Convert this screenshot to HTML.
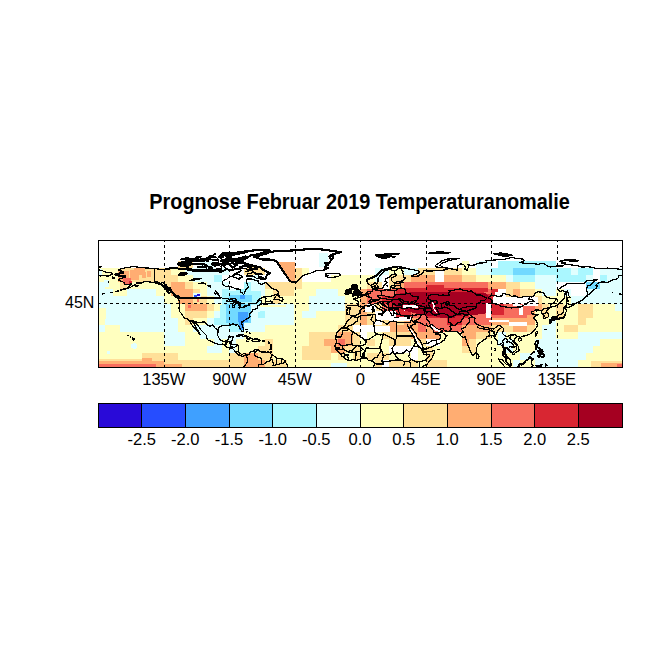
<!DOCTYPE html><html><head><meta charset="utf-8"><style>html,body{margin:0;padding:0;background:#fff;width:654px;height:654px;overflow:hidden}svg{display:block}text{font-family:"Liberation Sans",sans-serif;fill:#000}</style></head><body><svg width="654" height="654" viewBox="0 0 654 654"><rect width="654" height="654" fill="#fff"/><text transform="translate(149.3 208.6) scale(0.921 1)" font-size="21.6" font-weight="bold">Prognose Februar 2019 Temperaturanomalie</text><svg x="99" y="241" width="523" height="126" viewBox="99 241 523 126" overflow="hidden"><g shape-rendering="crispEdges"><rect x="178" y="261" width="15" height="7" fill="#FFE099"/><rect x="200" y="261" width="14" height="7" fill="#E0FFFF"/><rect x="462" y="261" width="7" height="7" fill="#FFFFBF"/><rect x="476" y="261" width="15" height="7" fill="#E0FFFF"/><rect x="498" y="261" width="58" height="7" fill="#AAF7FF"/><rect x="99" y="268" width="21" height="7" fill="#FFFFBF"/><rect x="120" y="268" width="51" height="7" fill="#FFE099"/><rect x="171" y="268" width="14" height="7" fill="#FFFFBF"/><rect x="185" y="268" width="44" height="7" fill="#E0FFFF"/><rect x="244" y="268" width="21" height="7" fill="#FFE099"/><rect x="294" y="268" width="8" height="7" fill="#FFE099"/><rect x="302" y="268" width="7" height="7" fill="#FFFFBF"/><rect x="375" y="268" width="14" height="7" fill="#E0FFFF"/><rect x="389" y="268" width="15" height="7" fill="#FFFFBF"/><rect x="404" y="268" width="14" height="7" fill="#E0FFFF"/><rect x="418" y="268" width="44" height="7" fill="#FFE099"/><rect x="462" y="268" width="14" height="7" fill="#FFFFBF"/><rect x="476" y="268" width="15" height="7" fill="#E0FFFF"/><rect x="491" y="268" width="22" height="7" fill="#AAF7FF"/><rect x="513" y="268" width="22" height="7" fill="#72D9FF"/><rect x="535" y="268" width="36" height="7" fill="#AAF7FF"/><rect x="571" y="268" width="7" height="7" fill="#E0FFFF"/><rect x="578" y="268" width="15" height="7" fill="#AAF7FF"/><rect x="600" y="268" width="22" height="7" fill="#E0FFFF"/><rect x="99" y="275" width="21" height="7" fill="#FFFFBF"/><rect x="120" y="275" width="58" height="7" fill="#FFE099"/><rect x="178" y="275" width="15" height="7" fill="#FFFFBF"/><rect x="193" y="275" width="21" height="7" fill="#E0FFFF"/><rect x="214" y="275" width="8" height="7" fill="#AAF7FF"/><rect x="251" y="275" width="7" height="7" fill="#E0FFFF"/><rect x="294" y="275" width="8" height="7" fill="#FFE099"/><rect x="331" y="275" width="44" height="7" fill="#FFFFBF"/><rect x="375" y="275" width="7" height="7" fill="#E0FFFF"/><rect x="389" y="275" width="22" height="7" fill="#FFE099"/><rect x="411" y="275" width="51" height="7" fill="#FFAD72"/><rect x="462" y="275" width="14" height="7" fill="#FFE099"/><rect x="476" y="275" width="30" height="7" fill="#FFFFBF"/><rect x="506" y="275" width="7" height="7" fill="#E0FFFF"/><rect x="513" y="275" width="22" height="7" fill="#AAF7FF"/><rect x="535" y="275" width="21" height="7" fill="#E0FFFF"/><rect x="556" y="275" width="30" height="7" fill="#AAF7FF"/><rect x="586" y="275" width="7" height="7" fill="#E0FFFF"/><rect x="600" y="275" width="7" height="7" fill="#AAF7FF"/><rect x="607" y="275" width="15" height="7" fill="#E0FFFF"/><rect x="99" y="282" width="6" height="7" fill="#E0FFFF"/><rect x="105" y="282" width="15" height="7" fill="#FFFFBF"/><rect x="120" y="282" width="7" height="7" fill="#FFE099"/><rect x="127" y="282" width="37" height="7" fill="#FFFFBF"/><rect x="164" y="282" width="7" height="7" fill="#FFE099"/><rect x="171" y="282" width="14" height="7" fill="#FFAD72"/><rect x="185" y="282" width="8" height="7" fill="#FFE099"/><rect x="193" y="282" width="14" height="7" fill="#FFFFBF"/><rect x="207" y="282" width="22" height="7" fill="#E0FFFF"/><rect x="244" y="282" width="7" height="7" fill="#AAF7FF"/><rect x="251" y="282" width="14" height="7" fill="#E0FFFF"/><rect x="265" y="282" width="37" height="7" fill="#FFE099"/><rect x="302" y="282" width="65" height="7" fill="#FFFFBF"/><rect x="367" y="282" width="15" height="7" fill="#FFE099"/><rect x="389" y="282" width="7" height="7" fill="#FFE099"/><rect x="396" y="282" width="8" height="7" fill="#FFAD72"/><rect x="404" y="282" width="14" height="7" fill="#F76D5E"/><rect x="418" y="282" width="22" height="7" fill="#D82632"/><rect x="440" y="282" width="36" height="7" fill="#F76D5E"/><rect x="476" y="282" width="30" height="7" fill="#FFAD72"/><rect x="506" y="282" width="14" height="7" fill="#FFE099"/><rect x="520" y="282" width="15" height="7" fill="#FFFFBF"/><rect x="535" y="282" width="21" height="7" fill="#E0FFFF"/><rect x="586" y="282" width="14" height="7" fill="#72D9FF"/><rect x="600" y="282" width="22" height="7" fill="#E0FFFF"/><rect x="99" y="289" width="14" height="7" fill="#E0FFFF"/><rect x="113" y="289" width="14" height="7" fill="#FFFFBF"/><rect x="127" y="289" width="29" height="7" fill="#E0FFFF"/><rect x="156" y="289" width="15" height="7" fill="#FFFFBF"/><rect x="171" y="289" width="22" height="7" fill="#FFAD72"/><rect x="193" y="289" width="7" height="7" fill="#FFE099"/><rect x="200" y="289" width="7" height="7" fill="#FFFFBF"/><rect x="207" y="289" width="15" height="7" fill="#E0FFFF"/><rect x="222" y="289" width="7" height="7" fill="#AAF7FF"/><rect x="229" y="289" width="7" height="7" fill="#E0FFFF"/><rect x="236" y="289" width="15" height="7" fill="#AAF7FF"/><rect x="251" y="289" width="14" height="7" fill="#E0FFFF"/><rect x="265" y="289" width="8" height="7" fill="#FFFFBF"/><rect x="273" y="289" width="21" height="7" fill="#FFE099"/><rect x="294" y="289" width="22" height="7" fill="#FFFFBF"/><rect x="316" y="289" width="22" height="7" fill="#E0FFFF"/><rect x="338" y="289" width="22" height="7" fill="#FFFFBF"/><rect x="360" y="289" width="7" height="7" fill="#FFAD72"/><rect x="367" y="289" width="29" height="7" fill="#F76D5E"/><rect x="396" y="289" width="15" height="7" fill="#D82632"/><rect x="411" y="289" width="15" height="7" fill="#A50021"/><rect x="426" y="289" width="21" height="7" fill="#D82632"/><rect x="447" y="289" width="22" height="7" fill="#A50021"/><rect x="469" y="289" width="15" height="7" fill="#D82632"/><rect x="484" y="289" width="7" height="7" fill="#F76D5E"/><rect x="491" y="289" width="7" height="7" fill="#D82632"/><rect x="506" y="289" width="7" height="7" fill="#FFE099"/><rect x="513" y="289" width="7" height="7" fill="#FFAD72"/><rect x="520" y="289" width="15" height="7" fill="#FFE099"/><rect x="535" y="289" width="7" height="7" fill="#FFFFBF"/><rect x="542" y="289" width="14" height="7" fill="#E0FFFF"/><rect x="556" y="289" width="8" height="7" fill="#FFFFBF"/><rect x="564" y="289" width="7" height="7" fill="#E0FFFF"/><rect x="586" y="289" width="36" height="7" fill="#E0FFFF"/><rect x="99" y="296" width="65" height="8" fill="#E0FFFF"/><rect x="164" y="296" width="14" height="8" fill="#FFFFBF"/><rect x="178" y="296" width="15" height="8" fill="#FFAD72"/><rect x="193" y="296" width="14" height="8" fill="#FFE099"/><rect x="207" y="296" width="7" height="8" fill="#FFFFBF"/><rect x="214" y="296" width="8" height="8" fill="#E0FFFF"/><rect x="222" y="296" width="14" height="8" fill="#AAF7FF"/><rect x="236" y="296" width="8" height="8" fill="#72D9FF"/><rect x="244" y="296" width="7" height="8" fill="#AAF7FF"/><rect x="251" y="296" width="7" height="8" fill="#E0FFFF"/><rect x="258" y="296" width="15" height="8" fill="#FFFFBF"/><rect x="273" y="296" width="7" height="8" fill="#FFE099"/><rect x="280" y="296" width="29" height="8" fill="#FFFFBF"/><rect x="309" y="296" width="36" height="8" fill="#E0FFFF"/><rect x="345" y="296" width="15" height="8" fill="#FFFFBF"/><rect x="360" y="296" width="7" height="8" fill="#FFAD72"/><rect x="367" y="296" width="15" height="8" fill="#F76D5E"/><rect x="382" y="296" width="14" height="8" fill="#D82632"/><rect x="396" y="296" width="80" height="8" fill="#A50021"/><rect x="476" y="296" width="15" height="8" fill="#D82632"/><rect x="506" y="296" width="7" height="8" fill="#FFE099"/><rect x="513" y="296" width="7" height="8" fill="#FFAD72"/><rect x="520" y="296" width="7" height="8" fill="#FFE099"/><rect x="535" y="296" width="7" height="8" fill="#FFE099"/><rect x="542" y="296" width="29" height="8" fill="#FFFFBF"/><rect x="571" y="296" width="51" height="8" fill="#E0FFFF"/><rect x="99" y="304" width="72" height="7" fill="#E0FFFF"/><rect x="171" y="304" width="14" height="7" fill="#FFFFBF"/><rect x="185" y="304" width="22" height="7" fill="#FFAD72"/><rect x="207" y="304" width="7" height="7" fill="#FFE099"/><rect x="214" y="304" width="8" height="7" fill="#FFFFBF"/><rect x="222" y="304" width="7" height="7" fill="#E0FFFF"/><rect x="229" y="304" width="7" height="7" fill="#AAF7FF"/><rect x="236" y="304" width="15" height="7" fill="#72D9FF"/><rect x="251" y="304" width="43" height="7" fill="#E0FFFF"/><rect x="294" y="304" width="15" height="7" fill="#FFFFBF"/><rect x="309" y="304" width="36" height="7" fill="#E0FFFF"/><rect x="345" y="304" width="15" height="7" fill="#FFE099"/><rect x="360" y="304" width="7" height="7" fill="#FFAD72"/><rect x="375" y="304" width="7" height="7" fill="#FFE099"/><rect x="382" y="304" width="7" height="7" fill="#F76D5E"/><rect x="389" y="304" width="15" height="7" fill="#D82632"/><rect x="411" y="304" width="58" height="7" fill="#A50021"/><rect x="469" y="304" width="15" height="7" fill="#D82632"/><rect x="491" y="304" width="7" height="7" fill="#D82632"/><rect x="498" y="304" width="15" height="7" fill="#F76D5E"/><rect x="520" y="304" width="15" height="7" fill="#F76D5E"/><rect x="535" y="304" width="7" height="7" fill="#FFAD72"/><rect x="542" y="304" width="7" height="7" fill="#FFE099"/><rect x="549" y="304" width="7" height="7" fill="#FFFFBF"/><rect x="556" y="304" width="8" height="7" fill="#FFE099"/><rect x="564" y="304" width="14" height="7" fill="#FFFFBF"/><rect x="578" y="304" width="15" height="7" fill="#FFE099"/><rect x="593" y="304" width="22" height="7" fill="#FFFFBF"/><rect x="615" y="304" width="7" height="7" fill="#E0FFFF"/><rect x="99" y="311" width="6" height="7" fill="#FFFFBF"/><rect x="105" y="311" width="66" height="7" fill="#E0FFFF"/><rect x="171" y="311" width="14" height="7" fill="#FFFFBF"/><rect x="185" y="311" width="22" height="7" fill="#FFE099"/><rect x="207" y="311" width="7" height="7" fill="#FFFFBF"/><rect x="214" y="311" width="8" height="7" fill="#E0FFFF"/><rect x="222" y="311" width="7" height="7" fill="#AAF7FF"/><rect x="229" y="311" width="7" height="7" fill="#72D9FF"/><rect x="236" y="311" width="8" height="7" fill="#3FA0FF"/><rect x="244" y="311" width="7" height="7" fill="#72D9FF"/><rect x="251" y="311" width="7" height="7" fill="#E0FFFF"/><rect x="258" y="311" width="7" height="7" fill="#AAF7FF"/><rect x="265" y="311" width="29" height="7" fill="#E0FFFF"/><rect x="294" y="311" width="8" height="7" fill="#FFFFBF"/><rect x="302" y="311" width="14" height="7" fill="#E0FFFF"/><rect x="316" y="311" width="29" height="7" fill="#FFFFBF"/><rect x="345" y="311" width="15" height="7" fill="#FFE099"/><rect x="360" y="311" width="7" height="7" fill="#FFAD72"/><rect x="367" y="311" width="8" height="7" fill="#FFE099"/><rect x="396" y="311" width="15" height="7" fill="#D82632"/><rect x="411" y="311" width="15" height="7" fill="#F76D5E"/><rect x="426" y="311" width="14" height="7" fill="#D82632"/><rect x="440" y="311" width="15" height="7" fill="#A50021"/><rect x="455" y="311" width="14" height="7" fill="#D82632"/><rect x="469" y="311" width="37" height="7" fill="#F76D5E"/><rect x="506" y="311" width="7" height="7" fill="#FFAD72"/><rect x="513" y="311" width="14" height="7" fill="#F76D5E"/><rect x="527" y="311" width="8" height="7" fill="#FFAD72"/><rect x="535" y="311" width="7" height="7" fill="#FFFFBF"/><rect x="542" y="311" width="7" height="7" fill="#FFE099"/><rect x="549" y="311" width="7" height="7" fill="#FFFFBF"/><rect x="556" y="311" width="8" height="7" fill="#FFE099"/><rect x="564" y="311" width="14" height="7" fill="#FFFFBF"/><rect x="578" y="311" width="15" height="7" fill="#FFE099"/><rect x="593" y="311" width="29" height="7" fill="#FFFFBF"/><rect x="99" y="318" width="6" height="7" fill="#FFFFBF"/><rect x="105" y="318" width="73" height="7" fill="#E0FFFF"/><rect x="178" y="318" width="7" height="7" fill="#FFFFBF"/><rect x="185" y="318" width="8" height="7" fill="#FFE099"/><rect x="193" y="318" width="14" height="7" fill="#FFFFBF"/><rect x="207" y="318" width="7" height="7" fill="#E0FFFF"/><rect x="214" y="318" width="15" height="7" fill="#AAF7FF"/><rect x="229" y="318" width="15" height="7" fill="#72D9FF"/><rect x="244" y="318" width="50" height="7" fill="#E0FFFF"/><rect x="294" y="318" width="51" height="7" fill="#FFFFBF"/><rect x="345" y="318" width="15" height="7" fill="#FFE099"/><rect x="360" y="318" width="7" height="7" fill="#FFAD72"/><rect x="367" y="318" width="8" height="7" fill="#FFE099"/><rect x="382" y="318" width="7" height="7" fill="#FFE099"/><rect x="389" y="318" width="7" height="7" fill="#FFAD72"/><rect x="396" y="318" width="8" height="7" fill="#FFE099"/><rect x="404" y="318" width="14" height="7" fill="#FFAD72"/><rect x="418" y="318" width="29" height="7" fill="#F76D5E"/><rect x="447" y="318" width="15" height="7" fill="#D82632"/><rect x="462" y="318" width="29" height="7" fill="#F76D5E"/><rect x="491" y="318" width="44" height="7" fill="#FFAD72"/><rect x="535" y="318" width="14" height="7" fill="#FFFFBF"/><rect x="549" y="318" width="7" height="7" fill="#E0FFFF"/><rect x="556" y="318" width="22" height="7" fill="#FFFFBF"/><rect x="578" y="318" width="8" height="7" fill="#FFE099"/><rect x="586" y="318" width="36" height="7" fill="#FFFFBF"/><rect x="99" y="325" width="6" height="7" fill="#E0FFFF"/><rect x="105" y="325" width="15" height="7" fill="#FFFFBF"/><rect x="120" y="325" width="58" height="7" fill="#E0FFFF"/><rect x="178" y="325" width="15" height="7" fill="#FFFFBF"/><rect x="193" y="325" width="36" height="7" fill="#E0FFFF"/><rect x="229" y="325" width="15" height="7" fill="#AAF7FF"/><rect x="244" y="325" width="21" height="7" fill="#E0FFFF"/><rect x="265" y="325" width="73" height="7" fill="#FFFFBF"/><rect x="338" y="325" width="15" height="7" fill="#FFE099"/><rect x="375" y="325" width="14" height="7" fill="#FFE099"/><rect x="389" y="325" width="29" height="7" fill="#FFAD72"/><rect x="418" y="325" width="8" height="7" fill="#F76D5E"/><rect x="426" y="325" width="7" height="7" fill="#FFAD72"/><rect x="433" y="325" width="29" height="7" fill="#F76D5E"/><rect x="462" y="325" width="29" height="7" fill="#FFAD72"/><rect x="491" y="325" width="22" height="7" fill="#FFE099"/><rect x="513" y="325" width="14" height="7" fill="#FFAD72"/><rect x="527" y="325" width="8" height="7" fill="#FFE099"/><rect x="535" y="325" width="7" height="7" fill="#FFFFBF"/><rect x="542" y="325" width="14" height="7" fill="#E0FFFF"/><rect x="556" y="325" width="8" height="7" fill="#FFFFBF"/><rect x="564" y="325" width="14" height="7" fill="#FFE099"/><rect x="578" y="325" width="44" height="7" fill="#FFFFBF"/><rect x="99" y="332" width="65" height="7" fill="#FFFFBF"/><rect x="164" y="332" width="21" height="7" fill="#E0FFFF"/><rect x="185" y="332" width="15" height="7" fill="#FFFFBF"/><rect x="200" y="332" width="44" height="7" fill="#E0FFFF"/><rect x="244" y="332" width="65" height="7" fill="#FFFFBF"/><rect x="309" y="332" width="29" height="7" fill="#FFE099"/><rect x="338" y="332" width="15" height="7" fill="#FFAD72"/><rect x="353" y="332" width="7" height="7" fill="#FFE099"/><rect x="367" y="332" width="15" height="7" fill="#FFFFBF"/><rect x="382" y="332" width="29" height="7" fill="#FFE099"/><rect x="411" y="332" width="29" height="7" fill="#FFAD72"/><rect x="440" y="332" width="22" height="7" fill="#FFFFBF"/><rect x="462" y="332" width="14" height="7" fill="#FFAD72"/><rect x="476" y="332" width="15" height="7" fill="#FFE099"/><rect x="491" y="332" width="7" height="7" fill="#FFFFBF"/><rect x="498" y="332" width="8" height="7" fill="#E0FFFF"/><rect x="506" y="332" width="36" height="7" fill="#FFFFBF"/><rect x="542" y="332" width="14" height="7" fill="#E0FFFF"/><rect x="556" y="332" width="22" height="7" fill="#FFFFBF"/><rect x="578" y="332" width="44" height="7" fill="#E0FFFF"/><rect x="99" y="339" width="65" height="7" fill="#FFFFBF"/><rect x="164" y="339" width="21" height="7" fill="#E0FFFF"/><rect x="185" y="339" width="29" height="7" fill="#FFFFBF"/><rect x="214" y="339" width="8" height="7" fill="#E0FFFF"/><rect x="222" y="339" width="7" height="7" fill="#FFFFBF"/><rect x="229" y="339" width="7" height="7" fill="#E0FFFF"/><rect x="236" y="339" width="29" height="7" fill="#FFFFBF"/><rect x="265" y="339" width="8" height="7" fill="#FFE099"/><rect x="273" y="339" width="36" height="7" fill="#FFFFBF"/><rect x="309" y="339" width="15" height="7" fill="#FFE099"/><rect x="324" y="339" width="14" height="7" fill="#FFAD72"/><rect x="338" y="339" width="7" height="7" fill="#F76D5E"/><rect x="345" y="339" width="8" height="7" fill="#FFAD72"/><rect x="353" y="339" width="7" height="7" fill="#FFE099"/><rect x="360" y="339" width="7" height="7" fill="#FFFFBF"/><rect x="367" y="339" width="8" height="7" fill="#FFE099"/><rect x="375" y="339" width="14" height="7" fill="#FFFFBF"/><rect x="389" y="339" width="22" height="7" fill="#FFE099"/><rect x="411" y="339" width="7" height="7" fill="#FFFFBF"/><rect x="418" y="339" width="8" height="7" fill="#FFE099"/><rect x="440" y="339" width="22" height="7" fill="#FFFFBF"/><rect x="462" y="339" width="7" height="7" fill="#FFAD72"/><rect x="469" y="339" width="7" height="7" fill="#FFE099"/><rect x="476" y="339" width="22" height="7" fill="#FFFFBF"/><rect x="498" y="339" width="15" height="7" fill="#E0FFFF"/><rect x="513" y="339" width="22" height="7" fill="#FFFFBF"/><rect x="535" y="339" width="65" height="7" fill="#E0FFFF"/><rect x="600" y="339" width="22" height="7" fill="#FFFFBF"/><rect x="99" y="346" width="108" height="7" fill="#FFFFBF"/><rect x="207" y="346" width="15" height="7" fill="#E0FFFF"/><rect x="222" y="346" width="7" height="7" fill="#FFFFBF"/><rect x="229" y="346" width="7" height="7" fill="#E0FFFF"/><rect x="236" y="346" width="22" height="7" fill="#FFFFBF"/><rect x="258" y="346" width="15" height="7" fill="#FFE099"/><rect x="273" y="346" width="29" height="7" fill="#FFFFBF"/><rect x="302" y="346" width="29" height="7" fill="#FFE099"/><rect x="331" y="346" width="14" height="7" fill="#FFAD72"/><rect x="345" y="346" width="15" height="7" fill="#FFE099"/><rect x="360" y="346" width="29" height="7" fill="#FFFFBF"/><rect x="418" y="346" width="8" height="7" fill="#FFFFBF"/><rect x="426" y="346" width="7" height="7" fill="#FFE099"/><rect x="433" y="346" width="29" height="7" fill="#FFFFBF"/><rect x="462" y="346" width="14" height="7" fill="#FFE099"/><rect x="476" y="346" width="30" height="7" fill="#FFFFBF"/><rect x="506" y="346" width="7" height="7" fill="#E0FFFF"/><rect x="513" y="346" width="22" height="7" fill="#FFFFBF"/><rect x="535" y="346" width="58" height="7" fill="#E0FFFF"/><rect x="593" y="346" width="29" height="7" fill="#FFFFBF"/><rect x="99" y="353" width="43" height="7" fill="#FFFFBF"/><rect x="142" y="353" width="36" height="7" fill="#FFE099"/><rect x="178" y="353" width="51" height="7" fill="#FFFFBF"/><rect x="229" y="353" width="15" height="7" fill="#FFE099"/><rect x="244" y="353" width="14" height="7" fill="#FFAD72"/><rect x="258" y="353" width="15" height="7" fill="#FFE099"/><rect x="273" y="353" width="29" height="7" fill="#FFFFBF"/><rect x="302" y="353" width="29" height="7" fill="#FFE099"/><rect x="331" y="353" width="7" height="7" fill="#FFFFBF"/><rect x="338" y="353" width="7" height="7" fill="#FFE099"/><rect x="345" y="353" width="8" height="7" fill="#FFFFBF"/><rect x="353" y="353" width="7" height="7" fill="#FFE099"/><rect x="360" y="353" width="7" height="7" fill="#FFFFBF"/><rect x="367" y="353" width="22" height="7" fill="#FFE099"/><rect x="389" y="353" width="22" height="7" fill="#FFFFBF"/><rect x="418" y="353" width="8" height="7" fill="#FFFFBF"/><rect x="426" y="353" width="7" height="7" fill="#FFE099"/><rect x="433" y="353" width="87" height="7" fill="#FFFFBF"/><rect x="520" y="353" width="66" height="7" fill="#E0FFFF"/><rect x="586" y="353" width="36" height="7" fill="#FFFFBF"/><rect x="99" y="360" width="65" height="7" fill="#FFAD72"/><rect x="164" y="360" width="80" height="7" fill="#FFE099"/><rect x="244" y="360" width="21" height="7" fill="#FFAD72"/><rect x="265" y="360" width="22" height="7" fill="#FFE099"/><rect x="287" y="360" width="88" height="7" fill="#FFFFBF"/><rect x="375" y="360" width="7" height="7" fill="#FFE099"/><rect x="389" y="360" width="29" height="7" fill="#FFE099"/><rect x="418" y="360" width="8" height="7" fill="#FFFFBF"/><rect x="426" y="360" width="21" height="7" fill="#FFE099"/><rect x="447" y="360" width="66" height="7" fill="#FFFFBF"/><rect x="513" y="360" width="7" height="7" fill="#E0FFFF"/><rect x="520" y="360" width="15" height="7" fill="#FFFFBF"/><rect x="535" y="360" width="43" height="7" fill="#E0FFFF"/><rect x="578" y="360" width="44" height="7" fill="#FFFFBF"/><rect x="99" y="359" width="65" height="8" fill="#FFFFBF"/><rect x="99" y="359" width="65" height="2" fill="#FFE099"/><rect x="142" y="356" width="22" height="5" fill="#FFE099"/><rect x="99" y="361" width="65" height="3" fill="#FFAD72"/><rect x="142" y="358" width="10" height="6" fill="#FFAD72"/><rect x="99" y="364" width="57" height="3" fill="#F76D5E"/><rect x="156" y="364" width="8" height="3" fill="#FFAD72"/><rect x="164" y="364" width="18" height="3" fill="#FFAD72"/><rect x="591" y="361" width="31" height="6" fill="#FFE099"/><rect x="601" y="363" width="21" height="4" fill="#FFAD72"/><rect x="617" y="364" width="5" height="3" fill="#F76D5E"/><rect x="193" y="293" width="8" height="6" fill="#E0FFFF"/><rect x="197" y="294" width="3" height="2" fill="#290AD8"/><rect x="194" y="295" width="3" height="3" fill="#264DFF"/><rect x="197" y="299" width="2" height="3" fill="#F76D5E"/><rect x="188" y="305" width="3" height="3" fill="#F76D5E"/><rect x="118" y="271" width="11" height="11" fill="#FFAD72"/><rect x="130" y="270" width="9" height="10" fill="#FFAD72"/><rect x="142" y="272" width="4" height="6" fill="#FFAD72"/><rect x="123" y="278" width="8" height="6" fill="#F76D5E"/><rect x="129" y="281" width="3" height="3" fill="#D82632"/><rect x="134" y="268" width="11" height="7" fill="#FFAD72"/><rect x="147" y="271" width="4" height="6" fill="#FFAD72"/><rect x="99" y="269" width="3" height="6" fill="#E0FFFF"/><rect x="104" y="280" width="5" height="7" fill="#E0FFFF"/><rect x="99" y="308" width="7" height="11" fill="#FFFFBF"/><rect x="248" y="266" width="10" height="2" fill="#FFE099"/><rect x="319" y="253" width="9" height="14" fill="#E0FFFF"/><rect x="412" y="282" width="76" height="6" fill="#F76D5E"/><rect x="426" y="285" width="18" height="3" fill="#D82632"/><rect x="404" y="288" width="84" height="4" fill="#D82632"/><rect x="435" y="271" width="9" height="11" fill="#FFFFFF"/><rect x="222" y="291" width="39" height="14" fill="#AAF7FF"/><rect x="229" y="295" width="23" height="7" fill="#72D9FF"/><rect x="225" y="304" width="26" height="19" fill="#72D9FF"/><rect x="220" y="305" width="6" height="20" fill="#AAF7FF"/><rect x="238" y="312" width="10" height="10" fill="#3FA0FF"/><rect x="239" y="322" width="5" height="8" fill="#3FA0FF"/><rect x="240" y="295" width="5" height="4" fill="#3FA0FF"/><rect x="251" y="309" width="9" height="3" fill="#E0FFFF"/><rect x="485" y="294" width="9" height="10" fill="#D82632"/><rect x="492" y="304" width="12" height="11" fill="#D82632"/><rect x="504" y="306" width="15" height="12" fill="#F76D5E"/><rect x="523" y="306" width="9" height="9" fill="#F76D5E"/><polygon points="277.0,261.9 295.2,261.9 295.2,280.9 289.8,281.2 287.9,278.1 285.0,273.9 283.6,271.8 282.1,269.6 280.7,267.5 279.2,265.4" fill="#FFAD72"/><polygon points="295.2,268.9 299.9,268.9 299.9,276.0 295.2,276.0" fill="#FFE099"/><polygon points="394.2,296.4 399.3,293.6 412.4,292.2 428.4,291.5 447.3,292.2 457.5,291.5 473.5,292.2 486.6,293.6 490.3,297.9 491.0,303.5 486.2,313.4 476.4,314.8 461.9,315.5 440.1,316.9 425.5,315.5 415.3,313.4 405.1,310.6 397.8,307.7 392.0,304.2 390.6,300.0" fill="#A50021"/><rect x="131" y="344" width="6" height="4" fill="#E0FFFF"/><rect x="133" y="343" width="3" height="6" fill="#E0FFFF"/><rect x="107" y="351" width="3" height="3" fill="#E0FFFF"/><rect x="260" y="305" width="26" height="2" fill="#FFFFBF"/><rect x="331" y="363" width="16" height="4" fill="#E0FFFF"/><rect x="377" y="313" width="12" height="7" fill="#FFFFFF"/><rect x="389" y="317" width="22" height="4" fill="#FFFFFF"/><rect x="365" y="307" width="11" height="5" fill="#FFFFFF"/><rect x="375" y="326" width="15" height="6" fill="#FFFFFF"/><rect x="403" y="305" width="15" height="3" fill="#FFFFFF"/><rect x="495" y="292" width="10" height="4" fill="#FFFFFF"/><rect x="493" y="297" width="45" height="7" fill="#FFFFFF"/><rect x="523" y="304" width="15" height="2" fill="#FFFFFF"/><rect x="486" y="303" width="5" height="15" fill="#FFFFFF"/><rect x="519" y="305" width="4" height="10" fill="#FFFFFF"/><rect x="489" y="320" width="20" height="2" fill="#FFFFFF"/><rect x="509" y="322" width="18" height="4" fill="#FFFFFF"/></g><g fill="none" stroke="#fff" stroke-width="2.2" shape-rendering="crispEdges"><polyline points="408.3,327.8 410.9,330.6 413.9,335.2 416.0,339.5 418.5,343.7 421.1,347.0 422.6,348.4"/><polyline points="430.7,325.8 433.1,327.8 435.0,329.2 437.1,330.2 440.1,330.9"/></g><g fill="#000" stroke="#000" stroke-width="1" shape-rendering="crispEdges"><polygon points="185.3,266.4 178.8,265.7 177.3,263.3 181.0,262.0 189.7,262.0 191.9,263.3 187.5,264.7 185.3,266.4"/><polygon points="192.6,259.1 185.3,259.9 181.0,259.1 186.8,257.6 192.6,259.1"/><polygon points="207.2,260.5 199.9,261.7 191.2,261.6 189.7,260.0 195.5,258.6 202.8,259.8 207.2,260.5"/><polygon points="218.8,260.9 213.0,260.7 213.0,259.3 217.4,259.1 218.8,260.9"/><polygon points="224.6,261.6 220.3,261.3 221.0,260.0 223.9,260.3 224.6,261.6"/><polygon points="215.9,257.6 208.6,257.2 210.1,255.8 214.4,256.2 215.9,257.6"/><polygon points="223.2,257.2 218.8,256.9 219.5,255.9 223.2,256.4 223.2,257.2"/><polygon points="218.8,265.4 214.4,266.1 211.5,264.3 213.0,262.9 218.8,262.9 220.3,264.0 218.8,265.4"/><polygon points="227.5,264.7 223.2,265.4 221.0,264.0 223.2,262.6 227.5,262.6 229.0,263.3 227.5,264.7"/><polygon points="221.7,270.3 217.4,270.6 214.4,269.6 217.4,268.5 220.3,268.9 221.7,270.3"/><polygon points="234.8,255.5 227.5,256.5 220.3,254.8 221.7,253.1 229.0,252.3 233.4,253.4 234.8,255.5"/><polygon points="243.6,260.9 236.3,261.9 226.1,261.7 220.3,260.5 226.1,259.1 236.3,258.9 242.1,259.3 243.6,260.9"/><polygon points="247.9,264.3 242.1,263.7 245.0,262.9 247.9,264.3"/><polygon points="199.9,257.6 195.5,257.2 198.4,256.2 201.3,256.9 199.9,257.6"/><polygon points="208.6,258.3 205.7,258.1 207.2,257.2 208.6,258.3"/><polygon points="209.3,261.2 206.4,261.4 207.2,260.5 209.3,261.2"/><polygon points="217.4,262.9 215.2,262.7 216.3,262.2 217.4,262.9"/><polygon points="245.7,271.8 248.7,272.0 248.2,270.6 245.7,271.8"/><polygon points="214.4,254.8 213.0,254.1 215.9,253.7 214.4,254.8"/><polygon points="221.0,258.1 218.8,257.8 220.3,257.2 221.0,258.1"/><polygon points="227.5,258.3 225.4,258.1 228.3,257.5 227.5,258.3"/><polygon points="178.1,274.9 181.0,272.7 185.3,272.5 187.5,273.6 184.6,275.3 181.0,275.4 178.1,274.9"/><polygon points="189.7,280.9 195.5,279.8 201.3,278.5 198.4,279.1 194.1,278.8 191.2,279.8 189.7,280.9"/><polygon points="215.6,291.1 217.4,292.2 218.8,294.3 219.1,295.9 217.9,294.8 216.6,292.9 215.6,291.1"/><polygon points="197.7,283.5 205.7,283.9 202.8,282.9 197.7,283.5"/><polygon points="207.9,285.9 210.8,287.3 210.1,285.4 207.9,285.9"/><polygon points="351.7,296.4 355.6,295.6 360.7,295.3 362.0,294.6 361.0,294.0 362.5,292.6 360.4,292.2 359.7,290.8 358.3,290.0 357.7,288.5 356.9,287.4 357.4,285.7 355.2,284.3 352.7,284.3 351.6,285.9 352.0,287.7 351.3,289.0 352.9,289.4 355.5,289.5 355.1,290.4 355.6,291.6 353.3,291.8 353.4,292.5 354.0,293.2 352.4,294.0 354.9,294.5 353.7,294.8 351.7,296.4"/><polygon points="351.3,293.3 351.0,291.5 352.0,290.1 351.3,289.1 349.4,289.0 347.6,289.7 345.4,290.5 345.7,292.2 345.0,293.9 347.6,294.2 350.7,293.3 351.3,293.3"/><polygon points="376.0,288.1 378.3,288.0 377.8,289.1 376.3,289.0 376.0,288.1"/><polygon points="374.3,288.7 375.7,288.7 375.3,289.4 374.3,288.7"/><polygon points="549.2,319.7 549.2,322.6 550.2,323.3 551.3,322.7 552.0,320.4 550.7,319.2 549.2,319.7"/><polygon points="552.9,320.4 556.1,319.3 555.3,318.6 553.6,318.9 552.9,320.4"/><polygon points="540.8,349.4 542.7,349.8 543.0,351.5 541.8,351.6 540.8,349.4"/><polygon points="541.1,350.8 541.9,351.5 542.2,352.9 541.5,352.9 541.1,350.8"/><polygon points="538.9,351.6 539.8,352.3 539.5,354.2 538.3,353.2 538.9,351.6"/><polygon points="540.3,351.2 540.6,352.2 539.6,353.6 540.3,351.2"/><polygon points="542.5,353.2 543.7,354.0 544.1,355.7 542.7,355.0 542.5,353.2"/><polygon points="376.0,256.2 380.4,257.6 383.3,258.9 385.5,258.3 390.6,256.5 392.0,254.8 397.8,254.1 399.3,253.7 389.1,253.3 383.3,254.3 376.0,254.5 376.0,256.2"/><polygon points="428.4,253.4 435.7,253.8 444.4,253.3 450.2,252.8 441.5,251.9 432.8,252.3 428.4,253.4"/><polygon points="498.3,255.5 505.6,256.2 512.8,255.5 505.6,253.4 498.3,254.1 498.3,255.5"/><polygon points="559.4,261.2 566.7,260.5 571.1,261.2 578.3,260.9 574.0,259.5 565.2,259.8 559.4,261.2"/></g><g fill="none" stroke="#000" stroke-width="1.25" stroke-linejoin="round" shape-rendering="crispEdges"><polyline points="154.8,268.8 148.9,268.1 141.7,267.7 137.3,267.0 132.2,266.4 130.0,267.1 125.7,267.8 122.7,268.5 118.1,269.8 120.6,270.8 123.3,272.6 120.6,273.2 115.5,274.4 119.3,276.0 125.7,276.1 125.9,277.4 120.6,278.4 118.4,280.2 122.7,281.9 124.2,282.6 124.5,284.2 130.0,284.2 131.5,284.0 130.0,285.9 127.1,288.0 122.7,289.4 120.1,290.2 124.2,289.4 128.6,288.3 132.9,285.9 135.8,284.4 136.6,283.0 139.5,283.0 141.7,282.9 143.1,282.1 146.0,281.2 148.9,281.8 151.9,282.3 154.8,282.3 156.7,282.9 159.9,284.3 162.0,284.7 163.5,286.6 165.7,288.3 168.6,289.4 170.8,289.8 170.8,291.5 173.7,293.6 174.4,295.0 178.1,296.4 180.2,297.9 181.3,298.6 178.5,298.7 179.5,301.7 179.5,306.3 178.9,307.7 179.5,310.1 179.9,312.0 181.7,313.7 182.6,315.4 184.5,318.2 187.5,319.0 189.4,320.9 190.4,322.6 191.3,324.2 193.8,327.5 195.8,328.9 198.4,332.4 200.0,334.7 199.5,332.9 197.7,330.3 196.1,327.5 195.1,325.4 193.0,322.4 195.5,322.8 198.4,326.1 200.6,329.6 203.5,332.4 206.1,335.2 206.7,338.1 208.2,340.2 212.3,341.9 215.2,343.4 219.5,344.8 222.4,344.1 224.6,345.1 226.8,347.0 229.7,347.9 232.6,348.7 234.8,350.8 235.3,352.0 236.3,353.2 238.5,355.0 240.6,355.4 242.8,356.6 243.6,355.4 245.7,355.1 246.8,356.7 247.2,357.8 247.5,361.4 246.5,363.5 245.0,365.2 243.6,367.0"/><polyline points="248.2,354.9 247.2,354.6 244.3,353.5 242.1,354.4 239.9,353.6 238.3,351.6 238.5,349.4 238.9,345.8 236.3,344.6 231.9,344.7 231.2,343.0 231.9,340.9 232.6,338.1 233.4,336.7 228.6,337.1 228.3,339.1 226.8,340.9 223.2,341.3 221.0,340.5 219.5,339.1 218.4,336.7 217.6,335.2 218.1,331.7 218.5,328.2 220.3,326.6 223.2,325.4 226.8,325.5 229.7,325.8 230.5,324.2 233.4,324.1 235.8,325.1 237.7,324.7 239.5,326.8 240.6,329.6 242.1,331.4 243.3,331.0 243.4,328.9 242.7,326.8 241.7,324.0 242.0,321.8 244.7,320.2 246.6,319.0 249.4,317.3 250.1,316.9 249.4,314.8 249.5,314.4 250.8,312.7 252.3,311.0 252.3,309.7 255.2,309.1 257.4,308.3 258.1,308.0 257.1,307.0 257.2,306.0 259.6,304.9 262.5,303.8 263.9,303.2 266.1,303.1 263.9,304.9 266.1,304.5 267.6,304.1 271.2,303.1 272.7,302.1 270.5,301.0 266.1,301.8 265.4,300.0 266.1,298.1 263.9,297.6 261.0,298.0 257.4,300.7 259.6,298.7 262.5,297.4 266.1,296.2 271.2,296.2 276.3,294.5 278.5,293.2 278.5,291.5 276.6,290.1 273.4,289.0 270.5,287.4 269.8,285.9 267.6,284.3 266.1,282.1 263.9,283.7 261.0,284.4 258.8,283.3 258.8,281.2 255.9,280.6 252.3,279.2 247.2,278.8 246.5,281.6 247.2,284.4 248.7,287.3 245.7,289.4 244.3,293.6 243.6,294.6 242.1,292.9 240.2,292.2 240.4,289.2 236.3,289.0 231.9,287.1 229.0,286.1 225.4,286.3 222.7,284.0 222.2,281.6 223.9,280.2 227.5,278.8 228.3,277.4 231.9,276.4 233.4,275.8 234.8,273.9 237.0,272.5 239.9,271.8 241.4,270.3 239.9,268.9 236.3,268.6 231.9,270.3 229.0,269.9 226.8,268.9 223.2,271.0 220.3,271.8 217.4,271.0 213.0,271.5 208.6,271.0 202.8,270.8 199.9,271.0 195.5,271.3 192.6,270.6 188.2,269.6 183.9,268.9 179.5,268.9 176.6,268.2 171.5,268.2 166.4,268.9 162.0,269.8 157.7,268.9 154.8,268.8"/><polyline points="226.8,268.9 224.6,266.8 223.2,265.4 221.0,266.1 221.7,268.2 220.3,269.9"/><polyline points="273.7,299.8 278.5,299.8 282.1,301.1 283.3,299.8 282.1,297.9 279.2,297.1 278.8,294.2 276.3,295.5 273.7,299.8"/><polyline points="173.1,295.3 178.1,298.6 180.5,298.7 179.5,297.4 177.3,296.3 173.1,295.3"/><polyline points="166.4,290.8 168.6,291.1 169.3,293.2 167.1,292.2 166.4,290.8"/><polyline points="135.1,285.4 138.3,285.3 136.6,286.8 135.1,285.4"/><polyline points="264.7,279.5 266.1,277.4 266.8,275.3 270.0,273.0 263.9,270.3 260.3,267.5 255.2,266.1 246.5,264.0 242.1,263.0 234.8,263.6 230.5,263.3 231.2,266.8 235.6,268.2 240.6,268.6 246.5,268.9 249.4,270.3 253.0,271.0 253.7,272.5 247.9,273.9 246.5,276.0 252.3,276.0 256.7,278.4 264.7,279.5"/><polyline points="242.8,277.0 237.7,278.4 233.4,277.3 234.1,274.6 237.7,274.1 242.1,276.3 242.8,277.0"/><polyline points="213.0,268.9 205.7,269.8 195.5,270.3 188.2,268.9 186.8,266.8 189.0,264.7 195.5,263.7 204.3,264.3 208.6,266.8 211.5,267.5 213.0,268.9"/><polyline points="185.3,266.4 178.8,265.7 177.3,263.3 181.0,262.0 189.7,262.0 191.9,263.3 187.5,264.7 185.3,266.4"/><polyline points="218.8,265.4 214.4,266.1 211.5,264.3 213.0,262.9 218.8,262.9 220.3,264.0 218.8,265.4"/><polyline points="227.5,264.7 223.2,265.4 221.0,264.0 223.2,262.6 227.5,262.6 229.0,263.3 227.5,264.7"/><polyline points="221.7,270.3 217.4,270.6 214.4,269.6 217.4,268.5 220.3,268.9 221.7,270.3"/><polyline points="243.6,260.9 236.3,261.9 226.1,261.7 220.3,260.5 226.1,259.1 236.3,258.9 242.1,259.3 243.6,260.9"/><polyline points="245.0,259.3 234.8,259.3 229.0,257.6 230.5,255.8 236.3,254.1 243.6,252.7 250.8,250.6 265.4,249.9 269.8,250.6 265.4,252.0 258.1,254.1 250.8,255.5 247.9,257.2 245.0,259.3"/><polyline points="234.8,255.5 227.5,256.5 220.3,254.8 221.7,253.1 229.0,252.3 233.4,253.4 234.8,255.5"/><polyline points="207.2,260.5 199.9,261.7 191.2,261.6 189.7,260.0 195.5,258.6 202.8,259.8 207.2,260.5"/><polyline points="192.6,259.1 185.3,259.9 181.0,259.1 186.8,257.6 192.6,259.1"/><polyline points="218.8,260.9 213.0,260.7 213.0,259.3 217.4,259.1 218.8,260.9"/><polyline points="224.6,261.6 220.3,261.3 221.0,260.0 223.9,260.3 224.6,261.6"/><polyline points="215.9,257.6 208.6,257.2 210.1,255.8 214.4,256.2 215.9,257.6"/><polyline points="223.2,257.2 218.8,256.9 219.5,255.9 223.2,256.4 223.2,257.2"/><polyline points="247.9,264.3 242.1,263.7 245.0,262.9 247.9,264.3"/><polyline points="240.6,278.8 238.5,279.2 239.2,278.2 240.6,278.8"/><polyline points="296.0,282.6 289.8,281.2 287.9,278.1 285.0,273.9 283.6,271.8 282.1,269.6 280.7,267.5 279.2,265.4 277.0,261.9 275.6,260.7 269.8,259.5 262.5,259.5 256.7,257.8 253.7,256.5 259.6,255.5 265.4,253.8 271.2,251.7 281.4,250.9 294.5,250.4 301.8,249.6 316.3,249.0 326.5,249.9 333.8,251.3 341.8,252.0 335.3,253.4 332.3,255.5 333.1,258.3 330.9,260.5 329.4,262.6 328.0,264.7 325.1,266.8 328.0,267.9 322.9,270.3 316.3,270.8 310.5,273.2 304.7,274.6 301.8,276.7 299.6,278.8 297.4,280.9 296.0,282.6"/><polyline points="327.2,277.0 330.9,277.4 335.3,277.0 338.9,276.1 340.2,275.0 338.9,273.7 336.7,273.2 333.8,273.6 330.9,273.7 327.2,273.3 325.1,274.4 328.0,275.6 325.1,275.8 327.2,277.0"/><polyline points="236.4,336.1 239.2,334.7 242.1,334.4 244.3,335.1 247.2,336.2 250.0,337.4 252.0,338.5 250.1,338.9 246.9,338.9 247.2,337.8 245.7,336.7 242.8,336.2 240.9,335.5 239.2,336.0 236.4,336.1"/><polyline points="251.7,341.0 254.0,338.9 256.7,338.9 259.6,339.8 260.6,340.8 258.3,341.0 255.9,341.9 254.0,341.3 251.7,341.0"/><polyline points="246.0,341.0 248.9,341.3 247.9,341.9 246.0,341.2"/><polyline points="262.0,341.0 264.5,341.0 264.4,341.6 262.2,341.6 262.0,341.0"/><polyline points="246.2,332.7 247.0,331.6 246.8,332.9"/><polyline points="247.3,329.5 245.3,329.5 247.9,329.9"/><polyline points="249.1,332.3 249.8,333.7 250.5,334.3"/><polyline points="270.0,351.9 271.2,351.8 271.2,352.7 270.0,352.7 270.0,351.9"/><polyline points="133.1,338.5 134.2,338.9 134.7,339.5 133.5,340.3 132.9,339.3 133.1,338.5"/><polyline points="131.9,337.5 132.9,337.6 132.4,337.9 131.9,337.5"/><polyline points="129.6,336.5 130.5,336.9 129.7,336.9"/><polyline points="127.4,335.7 128.1,335.8 127.7,336.1"/><polyline points="115.5,291.5 118.4,290.9 119.1,290.5"/><polyline points="109.6,292.9 112.6,292.5"/><polyline points="102.4,293.9 105.3,293.5"/><polyline points="619.1,293.9 622.0,294.2"/><polyline points="611.8,292.5 613.3,292.4"/><polyline points="248.2,354.9 249.8,353.6 250.1,352.2 251.1,351.5 253.0,351.1 255.2,349.6 255.9,349.5 256.5,351.3 255.9,352.2 256.5,350.6 258.1,350.8 257.8,349.8 259.6,350.9 261.0,352.0 263.9,352.0 266.8,352.2 269.0,351.9 269.8,352.9 271.2,354.3 273.0,355.3 275.6,357.1 277.0,358.5 279.9,358.5 282.9,359.2 284.3,360.2 285.5,361.1 285.8,362.8 287.2,364.5 287.2,367.0"/><polyline points="364.7,307.3 364.7,307.9 361.5,309.1 360.0,310.8 359.6,311.4 360.3,312.2 359.3,313.1 357.7,314.4 356.7,315.1 353.4,315.2 351.8,316.2 350.8,315.5 349.1,314.5 347.0,314.8 347.2,312.4 346.2,312.2 347.0,310.3 347.2,307.7 346.5,306.3 348.4,305.3 354.2,305.8 357.5,305.8 358.1,304.1 358.3,302.1 356.8,300.5 353.2,298.7 355.6,298.1 357.7,298.4 357.4,297.0 360.0,297.3 362.2,296.3 362.3,295.0 364.4,294.6 366.4,293.8 367.0,292.2 368.7,291.5 370.2,291.5 372.4,291.2 372.8,290.1 372.5,288.7 371.8,287.3 371.8,286.8 375.4,285.6 375.0,287.3 375.7,287.7 374.3,289.4 375.9,290.4 378.2,290.1 380.7,290.9 384.0,290.1 386.9,289.7 388.4,290.2 390.6,288.7 390.6,287.3 391.3,285.9 392.8,285.6 395.4,286.3 394.2,284.0 394.2,283.5 400.8,283.0 403.7,282.3 400.8,281.6 397.8,281.8 393.5,282.5 391.1,280.2 391.3,278.1 394.2,276.7 396.8,275.1 395.2,274.1 392.0,274.6 390.6,276.4 387.7,277.8 385.5,279.2 385.0,281.2 387.2,282.5 385.2,284.2 384.0,285.9 383.3,287.7 381.1,288.5 378.6,288.8 378.8,287.3 377.3,285.6 376.3,283.9 375.3,282.6 373.8,283.7 371.6,285.0 370.2,285.2 368.0,283.7 367.3,281.6 367.3,279.5 370.2,278.4 374.6,276.7 377.5,274.6 379.6,272.5 381.8,270.3 386.2,268.9 390.6,267.9 394.9,266.8 397.8,266.8 400.8,267.0 405.1,267.8 408.0,268.9 412.4,269.5 419.7,271.3 418.2,273.6 410.9,276.0 413.9,276.7 418.2,276.0 422.6,273.4 424.0,270.3 427.0,271.0 432.8,271.0 437.1,270.2 440.1,270.6 444.4,269.9 447.3,269.6 448.1,268.5 453.2,269.2 457.5,270.3 457.5,268.9 457.5,266.1 460.4,264.0 463.3,264.3 465.5,266.8 464.8,269.6 467.0,270.3 469.2,265.4 467.0,264.1 470.6,265.4 476.4,264.7 477.2,263.3 486.6,262.6 485.9,260.5 488.1,260.5 496.8,259.8 505.6,259.1 511.4,257.4 515.7,258.3 523.0,259.1 524.5,260.5 520.1,262.6 524.5,263.3 531.8,263.3 537.6,264.3 543.4,263.4 547.8,266.1 550.7,267.0 556.5,266.1 562.3,266.1 565.2,264.3 572.5,265.0 578.3,266.0 581.2,267.0 588.5,266.8 592.9,267.4 595.8,268.8 603.1,268.6 607.4,268.1 616.2,268.6 622.0,269.8"/><polyline points="98.0,269.8 102.4,270.8 106.7,272.3 111.1,272.6 113.0,273.9 111.1,274.6 108.2,276.3 103.8,275.3 100.2,276.0 98.0,275.3"/><polyline points="622.0,275.3 619.1,275.7 617.6,278.8 613.3,279.8 607.4,282.3 601.6,281.9 598.7,282.6 595.8,285.2 597.3,285.9 596.5,287.7 592.9,290.8 590.7,292.9 588.1,295.0 587.1,292.2 586.3,288.7 587.8,285.9 590.0,285.2 592.9,282.3 597.3,279.5 592.9,280.2 587.1,280.2 584.2,283.5 579.8,283.5 572.5,283.3 568.1,283.2 564.5,285.4 560.9,287.4 558.0,290.0 560.1,291.5 563.0,290.5 565.8,292.2 565.2,292.9 564.5,296.4 563.8,299.3 560.9,301.4 558.0,304.9 553.6,306.6 550.7,307.0 550.0,307.3 548.8,309.1 546.3,310.6 548.2,314.1 548.3,316.9 544.9,318.3 543.8,318.2 544.1,315.5 543.4,314.1 541.9,313.7 541.7,311.0 537.6,309.9 536.1,312.0 536.9,309.4 536.6,309.3 533.2,311.5 531.8,312.0 531.3,312.7 532.9,314.1 534.7,314.2 538.5,314.2 535.4,316.2 533.5,317.6 535.4,319.7 536.9,321.8 537.4,323.3 536.9,324.7 537.6,325.4 536.4,327.5 534.7,329.6 533.9,331.0 531.8,332.4 529.6,334.5 526.4,335.5 523.0,336.2 520.8,337.1 520.4,338.4 519.4,336.7 517.2,336.7 515.3,337.8 514.0,340.2 515.0,342.3 517.2,344.4 518.7,347.2 519.1,350.1 518.2,351.5 515.7,352.3 514.3,353.9 512.8,354.9 512.5,352.9 511.4,352.2 509.9,350.8 508.5,349.6 506.9,347.9 505.6,348.4 504.4,352.2 506.1,355.7 507.4,357.3 508.9,358.3 510.5,360.2 510.5,362.1 511.8,365.0 510.6,365.2 507.4,363.0 506.1,361.4 506.0,358.5 503.1,355.7 503.4,352.9 503.7,348.7 502.2,344.4 501.6,343.2 499.0,344.7 497.3,344.4 497.4,340.9 496.1,339.5 494.3,337.4 493.6,335.2 491.7,335.4 489.5,336.2 486.6,336.7 486.3,338.4 483.7,339.8 479.8,343.0 477.9,344.7 476.7,347.9 476.3,352.2 474.3,354.3 472.8,355.6 471.4,354.0 470.2,350.8 468.6,346.5 466.7,342.3 466.0,339.5 465.7,336.9 462.6,337.4 460.6,335.5 459.7,333.8 458.2,333.1 457.1,331.3 453.2,331.3 449.5,331.6 444.4,330.7 443.3,328.9 441.9,328.8 438.6,329.3 435.7,327.8 433.5,325.4 431.0,324.4 429.9,325.4 430.6,327.5 432.8,329.6 433.9,332.1 435.0,332.7 436.4,332.9 439.3,332.9 441.5,331.0 442.1,330.0 442.1,332.4 443.7,333.6 445.9,335.1 447.0,335.5 445.1,338.1 444.0,340.2 440.1,343.0 436.0,344.7 431.3,347.0 425.5,348.9 423.3,349.1 422.2,345.1 421.9,343.7 419.7,340.2 416.8,336.7 416.0,333.7 413.9,331.0 411.2,327.5 410.9,325.4 410.2,327.5 408.8,327.8 407.3,324.7 409.2,328.9 411.7,333.1 414.1,337.4 414.4,340.9 416.0,341.6 417.5,345.1 420.4,347.5 423.0,349.4 422.9,350.8 424.8,352.3 428.4,351.5 432.1,351.1 434.5,350.3 434.5,352.2 433.9,353.6 432.1,357.8 429.9,360.6 427.0,364.2 424.0,365.6 421.9,367.7"/><polyline points="364.7,307.3 364.4,306.0 366.6,305.6 368.7,306.2 370.9,305.2 372.4,304.5 373.8,304.8 375.0,305.6 376.0,306.9 378.2,308.3 380.4,309.4 382.7,310.4 383.0,311.3 383.3,312.7 382.9,313.5 384.0,312.7 385.0,312.0 384.7,309.9 386.9,310.3 385.5,309.4 383.3,308.4 381.1,307.6 379.6,305.5 377.9,304.1 377.9,302.9 379.6,302.5 381.1,303.2 382.6,305.1 384.7,306.2 386.9,307.2 388.4,308.0 388.2,310.0 389.4,311.1 390.6,312.7 391.6,315.1 392.8,315.6 393.6,314.1 394.9,313.4 393.5,312.7 392.9,310.6 394.2,310.1 394.9,309.3 397.8,309.4 398.3,310.6 399.3,312.7 399.7,314.1 400.8,315.2 403.7,315.8 406.6,316.1 409.5,315.8 412.4,315.1 412.1,317.6 411.5,319.7 410.2,322.6 409.8,322.8 407.0,322.8 403.7,322.8 396.4,322.1 393.5,321.1 389.1,321.7 388.8,323.8 386.9,324.2 382.6,321.4 376.7,320.2 375.3,318.6 376.0,316.9 375.0,314.5 373.8,314.4 371.6,314.8 367.3,315.1 362.2,315.4 358.5,316.9 357.1,317.5 352.0,316.3 351.3,316.9 349.8,319.4 347.6,320.2 345.9,324.0 344.0,326.8 341.1,328.2 338.9,330.3 336.7,333.1 335.3,337.4 336.0,339.5 336.4,341.6 336.0,343.7 334.7,346.3 335.7,347.9 335.7,349.6 337.4,350.8 338.9,352.2 340.6,353.6 341.8,356.4 344.0,357.4 346.9,359.9 349.1,360.8 352.7,359.8 357.1,360.2 361.5,358.5 363.9,358.1 366.6,358.1 368.7,360.9 370.9,360.6 372.8,361.4 374.1,362.8 374.3,364.2 373.8,366.3 373.5,367.0"/><polyline points="400.8,308.4 401.5,305.6 403.7,302.4 404.7,301.4 406.3,301.2 408.8,302.1 407.3,302.9 408.8,304.2 410.9,303.5 413.1,303.1 410.9,302.4 414.6,300.7 416.8,300.4 415.3,302.1 414.6,303.9 417.5,305.6 420.4,308.4 418.2,309.1 415.3,309.3 412.4,308.2 409.5,307.7 406.6,308.0 403.7,308.9 400.8,308.4"/><polyline points="428.4,303.8 429.1,302.7 431.3,301.4 434.2,300.7 437.1,301.0 437.1,303.1 435.0,304.2 434.2,306.3 436.4,308.2 437.1,309.9 438.5,312.2 438.6,314.4 435.7,315.2 433.2,314.5 431.3,313.0 432.1,310.1 430.6,308.0 429.1,306.3 428.4,303.8"/><polyline points="445.1,302.8 447.3,301.4 449.5,302.8 448.1,304.9 445.9,304.9 445.1,302.8"/><polyline points="351.7,296.4 355.6,295.6 360.7,295.3 362.0,294.6 361.0,294.0 362.5,292.6 360.4,292.2 359.7,290.8 358.3,290.0 357.7,288.5 356.9,287.4 357.4,285.7 355.2,284.3 352.7,284.3 351.6,285.9 352.0,287.7 351.3,289.0 352.9,289.4 355.5,289.5 355.1,290.4 355.6,291.6 353.3,291.8 353.4,292.5 354.0,293.2 352.4,294.0 354.9,294.5 353.7,294.8 351.7,296.4"/><polyline points="351.3,293.3 351.0,291.5 352.0,290.1 351.3,289.1 349.4,289.0 347.6,289.7 345.4,290.5 345.7,292.2 345.0,293.9 347.6,294.2 350.7,293.3 351.3,293.3"/><polyline points="371.9,309.1 374.0,309.1 374.0,311.7 372.4,312.0 371.9,309.1"/><polyline points="372.5,306.5 373.8,306.3 373.7,308.4 372.7,308.0 372.5,306.5"/><polyline points="378.0,313.4 382.7,313.1 382.0,315.2 378.2,313.9 378.0,313.4"/><polyline points="394.2,317.2 398.3,317.3 395.7,317.8 394.2,317.2"/><polyline points="407.0,317.6 409.5,316.9 409.5,318.2 407.3,318.0 407.0,317.6"/><polyline points="363.5,311.3 364.9,310.8 364.7,311.5 363.5,311.3"/><polyline points="376.0,288.1 378.3,288.0 377.8,289.1 376.3,289.0 376.0,288.1"/><polyline points="386.5,285.3 387.7,285.7 386.9,286.6"/><polyline points="376.0,256.2 380.4,257.6 383.3,258.9 385.5,258.3 390.6,256.5 392.0,254.8 397.8,254.1 399.3,253.7 389.1,253.3 383.3,254.3 376.0,254.5 376.0,256.2"/><polyline points="392.0,256.2 394.9,256.5 392.8,257.9 392.0,256.2"/><polyline points="428.4,253.4 435.7,253.8 444.4,253.3 450.2,252.8 441.5,251.9 432.8,252.3 428.4,253.4"/><polyline points="435.0,266.1 437.1,267.1 443.0,267.4 440.1,265.4 441.5,263.3 447.3,261.2 453.2,259.5 459.7,258.5 456.1,258.3 447.3,259.1 441.5,260.9 438.6,263.3 436.4,264.7 435.0,266.1"/><polyline points="444.4,267.7 448.1,268.2 445.9,268.6 444.4,267.7"/><polyline points="498.3,255.5 505.6,256.2 512.8,255.5 505.6,253.4 498.3,254.1 498.3,255.5"/><polyline points="495.4,254.8 501.2,253.0 493.9,253.4 495.4,254.8"/><polyline points="559.4,261.2 566.7,260.5 571.1,261.2 578.3,260.9 574.0,259.5 565.2,259.8 559.4,261.2"/><polyline points="560.9,262.9 565.2,263.0 563.8,263.6 560.9,262.9"/><polyline points="98.0,266.8 101.6,266.5 100.9,267.0 98.0,267.1"/><polyline points="619.8,266.5 622.0,266.8"/><polyline points="566.7,302.1 568.9,301.4 567.4,300.0 568.1,297.6 570.3,297.9 568.4,295.0 568.1,292.2 567.4,290.4 566.7,291.5 566.3,293.6 566.7,296.4 566.7,299.3 566.5,301.4 566.7,302.1"/><polyline points="563.8,308.4 563.9,307.0 566.0,305.9 566.3,303.9 566.7,302.8 568.9,304.6 571.5,304.5 571.8,305.9 569.6,306.5 568.6,307.7 566.0,307.0 564.5,308.2 563.8,308.4"/><polyline points="550.7,318.6 552.9,316.9 557.2,316.8 558.7,314.5 560.1,314.8 561.6,313.7 563.0,312.7 563.8,310.6 563.8,308.9 565.8,308.6 566.0,309.9 566.7,311.3 565.2,313.0 565.1,314.8 564.7,316.2 564.9,316.6 563.8,317.6 562.3,317.6 562.0,318.2 559.4,318.2 559.1,318.7 556.8,319.4 556.6,318.2 553.6,318.6 550.7,318.6"/><polyline points="549.2,319.7 549.2,322.6 550.2,323.3 551.3,322.7 552.0,320.4 550.7,319.2 549.2,319.7"/><polyline points="552.9,320.4 556.1,319.3 555.3,318.6 553.6,318.9 552.9,320.4"/><polyline points="572.5,305.6 575.4,303.5 578.3,302.1 581.2,300.7 584.2,298.6 586.3,296.4 587.8,295.3"/><polyline points="543.7,329.6 546.3,329.2 546.7,329.5"/><polyline points="534.8,334.5 535.7,336.0 536.1,335.2 537.4,332.4 536.9,331.3 535.7,332.4 534.8,334.5"/><polyline points="518.1,340.2 519.4,341.3 520.8,340.6 521.6,339.2 520.4,338.6 518.9,338.9 518.1,340.2"/><polyline points="535.5,340.9 537.9,340.9 538.3,343.0 537.0,344.7 537.6,347.2 540.6,349.2 539.5,348.7 537.4,347.5 535.5,346.8 536.0,345.8 534.4,344.0 535.2,343.0 535.5,340.9"/><polyline points="537.6,357.1 540.5,356.4 543.4,357.1 544.1,355.7 542.5,353.2 540.1,355.0 537.9,356.0 537.6,357.1"/><polyline points="540.8,349.4 542.7,349.8 543.0,351.5 541.8,351.6 540.8,349.4"/><polyline points="541.1,350.8 541.9,351.5 542.2,352.9 541.5,352.9 541.1,350.8"/><polyline points="537.6,350.3 539.2,350.8 538.5,352.2 537.6,351.8 537.6,350.3"/><polyline points="538.9,351.6 539.8,352.3 539.5,354.2 538.3,353.2 538.9,351.6"/><polyline points="540.3,351.2 540.6,352.2 539.6,353.6 540.3,351.2"/><polyline points="530.6,355.3 534.4,351.8 533.9,351.1 532.5,352.9 530.6,355.3"/><polyline points="535.1,347.9 536.9,348.1 536.4,349.8 535.1,347.9"/><polyline points="518.5,367.0 518.7,364.9 519.5,364.2 521.6,364.6 524.5,362.5 525.9,360.5 528.1,359.5 530.0,357.3 531.3,358.5 533.5,359.7 531.9,360.8 531.3,362.5 531.9,364.3 533.2,365.6 531.6,367.0"/><polyline points="510.6,367.0 507.7,364.7 506.3,364.2 503.7,361.6 501.9,359.7 498.7,359.1 499.7,361.4 502.6,363.9 504.4,366.6 504.7,367.0"/><polyline points="534.7,366.6 535.4,365.2 537.6,365.6 541.2,364.9 542.2,364.9 540.9,366.4 539.0,366.3 536.1,366.4"/><polyline points="545.6,367.0 546.3,364.9 545.9,363.9 547.3,365.4 546.6,366.3"/><polyline points="476.3,357.8 476.4,355.9 476.4,353.6 477.6,353.9 479.1,356.4 478.5,358.1 477.3,358.7 476.3,357.8"/><polyline points="437.6,349.2 439.3,349.2 438.7,349.6 437.6,349.2"/><polyline points="494.9,347.9 495.4,349.6 494.8,350.8"/><polyline points="154.8,268.8 154.8,281.9 157.7,281.9 159.9,283.5 162.8,282.6 165.7,284.4 168.2,287.3 170.8,288.1 170.8,289.8"/><polyline points="180.5,297.9 221.4,297.9 221.4,297.3 222.0,298.1 224.6,298.4 229.0,299.1 230.0,299.3 236.3,301.0 237.0,301.4 238.5,302.1 239.9,303.1 240.1,306.3 238.9,307.7 242.1,307.3 245.0,307.0 245.0,305.9 248.7,304.9 250.8,303.5 255.9,303.5 256.9,302.9 258.1,301.4 259.3,300.1 260.6,300.3 261.3,300.7 261.3,302.5 262.5,303.5"/><polyline points="189.6,321.1 193.0,320.9 198.4,322.8 202.5,322.8 202.5,322.1 205.0,322.1 207.9,325.2 210.1,326.1 212.3,324.9 215.2,328.2 218.5,330.5"/><polyline points="226.1,301.1 229.0,301.2 233.4,301.4 237.0,301.4 236.7,300.0 234.8,298.3 231.2,298.7 229.0,299.5 226.1,301.1"/><polyline points="232.2,307.7 232.6,304.9 233.4,302.8 236.3,302.1 235.4,303.8 234.1,305.6 234.4,307.7 232.2,307.7"/><polyline points="237.7,302.1 240.6,302.8 241.1,303.2 239.9,306.3 238.5,304.9 237.7,302.1"/><polyline points="238.6,308.2 245.0,306.5 243.6,307.0 238.6,308.2"/><polyline points="243.8,305.9 249.1,304.9 248.7,305.8 244.7,306.0 243.8,305.9"/><polyline points="178.1,274.9 181.0,272.7 185.3,272.5 187.5,273.6 184.6,275.3 181.0,275.4 178.1,274.9"/><polyline points="189.7,280.9 195.5,279.8 201.3,278.5 198.4,279.1 194.1,278.8 191.2,279.8 189.7,280.9"/><polyline points="215.6,291.1 217.4,292.2 218.8,294.3 219.1,295.9 217.9,294.8 216.6,292.9 215.6,291.1"/><polyline points="197.7,283.5 205.7,283.9 202.8,282.9 197.7,283.5"/><polyline points="207.9,285.9 210.8,287.3 210.1,285.4 207.9,285.9"/><polyline points="213.7,292.5 215.2,294.0 215.9,294.3"/><polyline points="225.8,346.5 226.1,342.6 227.0,342.6 227.7,341.9 230.3,341.7 231.5,340.9"/><polyline points="230.3,341.7 230.2,344.6 231.6,344.8"/><polyline points="229.9,346.7 231.9,347.4 232.3,348.4"/><polyline points="230.2,344.6 231.2,346.5 233.4,347.2 234.8,347.2 236.7,345.8 238.9,345.8"/><polyline points="235.3,351.3 238.2,351.6"/><polyline points="239.2,355.3 239.8,353.5"/><polyline points="246.6,356.8 247.6,354.9"/><polyline points="254.8,351.2 254.5,355.7 258.1,357.1 261.8,358.3 261.3,360.6 262.0,364.2 262.6,365.3"/><polyline points="272.7,355.0 271.6,356.4 270.5,359.2 271.6,359.7 272.7,359.7 272.7,361.4 273.4,363.5 273.0,365.2 274.9,365.2 277.0,364.2 278.5,364.3 280.7,363.8 283.6,363.8 284.9,360.9"/><polyline points="277.0,358.5 276.3,364.2"/><polyline points="281.4,359.0 281.4,363.9"/><polyline points="262.6,365.3 266.8,361.6 268.6,361.4 271.6,359.7"/><polyline points="258.1,367.0 258.8,364.9 262.0,364.2"/><polyline points="357.5,305.8 360.7,306.7 364.7,307.2"/><polyline points="347.0,307.9 350.5,307.9 350.0,310.1 349.1,311.3 349.8,312.1 349.2,314.5"/><polyline points="363.6,294.9 366.1,296.0 368.4,297.1 369.3,297.6 371.9,297.9 371.1,299.8 368.7,301.7 370.2,302.8 370.9,305.2"/><polyline points="364.9,294.5 368.6,293.9 368.7,295.3 369.3,297.6"/><polyline points="368.6,293.9 370.2,293.3 370.5,291.8"/><polyline points="372.5,289.5 374.4,289.7"/><polyline points="380.7,290.9 381.3,292.9 381.8,295.0 377.6,296.0 380.1,298.1 378.9,300.0 374.6,300.0 373.8,300.0 371.1,299.8"/><polyline points="368.7,301.7 371.6,302.1 375.3,301.0 378.2,300.7 379.9,301.4 379.6,302.5"/><polyline points="381.8,295.0 386.9,296.6 392.9,297.7 395.1,295.3 394.2,294.3 394.8,291.1 394.2,290.4 388.4,290.2"/><polyline points="380.1,298.1 384.7,298.4 387.4,299.5 393.3,299.3"/><polyline points="379.9,301.4 384.0,301.4 388.4,302.1 390.6,301.8 392.6,299.7 393.3,299.3 396.2,299.7 398.7,299.0 401.0,301.4 401.5,302.8 403.1,303.1"/><polyline points="392.8,304.2 396.4,305.3 400.0,304.9 401.6,305.3"/><polyline points="392.6,307.3 397.8,308.0 400.8,307.7"/><polyline points="384.0,301.4 382.6,302.8 383.3,304.2 385.5,306.3 386.9,307.2"/><polyline points="388.5,301.8 387.7,303.5 388.4,306.3 389.8,307.7 392.6,307.3 392.8,304.9 392.8,304.2"/><polyline points="388.1,307.5 390.0,309.1 389.4,311.1"/><polyline points="390.0,309.1 392.8,309.0 394.9,308.4 398.1,308.2 397.8,309.4"/><polyline points="390.6,287.8 398.7,288.4"/><polyline points="391.7,285.4 395.4,285.3 399.9,285.7"/><polyline points="394.8,291.1 398.7,288.4 401.0,287.8 404.8,288.7 406.3,293.5 404.4,294.6 400.8,294.3 394.4,294.3"/><polyline points="400.8,283.0 399.9,285.7 401.0,287.8"/><polyline points="406.3,293.5 409.5,293.2 411.7,295.9 415.3,296.6 418.2,297.0 417.8,299.5 415.7,300.7"/><polyline points="398.7,299.0 401.0,299.0 403.7,301.4 403.1,303.1"/><polyline points="400.8,281.6 403.1,280.2 405.9,278.2 403.7,277.0 403.7,274.6 402.2,272.6 403.4,271.5 401.5,269.8 402.1,268.4 405.1,267.8"/><polyline points="395.2,274.1 394.4,273.2 394.8,271.2 390.0,269.5"/><polyline points="390.0,269.5 392.6,270.2 396.4,270.2 397.8,268.4 401.0,268.5 402.1,268.4"/><polyline points="377.0,283.7 378.2,280.9 377.8,278.8 379.6,276.0 381.1,274.6 383.3,271.8 386.2,270.2 390.0,269.5"/><polyline points="412.4,315.1 413.1,315.9 415.3,315.1 419.7,314.6 421.7,314.5 425.2,314.5 424.5,312.8 425.2,311.0"/><polyline points="420.4,308.4 423.3,309.0 423.6,310.4 425.2,311.0"/><polyline points="421.7,314.5 419.7,318.3 416.5,319.9 413.6,321.4 412.0,320.9"/><polyline points="416.8,321.8 413.9,322.6 415.2,324.0 410.9,325.5"/><polyline points="416.8,321.8 421.1,323.1 425.1,325.8 427.7,325.9 429.4,326.8"/><polyline points="425.2,314.5 426.2,316.3 427.0,317.6 426.2,319.0 429.6,322.4 429.9,324.0"/><polyline points="438.5,314.4 443.0,313.1 448.1,315.4 449.1,316.8 448.6,318.6 448.1,320.3 448.6,322.6 449.8,322.7 451.3,325.5 449.5,326.6 451.4,328.6 449.7,331.4"/><polyline points="449.8,322.7 453.2,325.5 456.6,324.8 457.4,322.8 460.9,322.0 461.9,319.4 463.5,318.2 464.1,316.2 467.7,315.1 469.2,314.6"/><polyline points="449.1,316.8 450.7,317.2 453.9,315.8 456.8,314.2 458.7,314.6 461.2,313.9 463.8,313.5 464.1,315.1 467.7,315.1"/><polyline points="422.6,343.4 428.4,343.2 431.3,340.9 435.7,340.2 440.1,338.8 440.8,335.2 440.3,335.0 435.7,334.5 435.1,332.9"/><polyline points="435.7,340.2 437.1,343.6"/><polyline points="417.5,305.6 421.1,306.0 424.0,306.7 427.7,307.9 430.6,308.0"/><polyline points="423.3,309.0 425.5,308.9 427.7,307.9"/><polyline points="425.2,311.0 427.7,312.1 429.9,311.3 431.2,312.8"/><polyline points="459.4,333.6 462.6,332.7 463.5,332.6 462.3,330.7 461.3,328.6 464.7,327.6 467.0,324.8 468.4,323.3 469.6,321.4 468.9,318.0 473.2,316.9"/><polyline points="473.2,316.9 475.0,318.6 474.3,321.1 475.0,322.8 476.9,324.2 478.2,324.7 482.3,326.6 485.2,327.5 488.4,327.6 489.4,328.5 493.9,329.0 497.6,325.8 499.7,325.4 501.6,327.2"/><polyline points="476.6,326.4 479.4,328.2 483.7,328.9 488.1,329.7"/><polyline points="488.1,329.7 490.7,330.5 493.9,331.6 493.2,333.1 494.5,331.9"/><polyline points="489.1,335.7 489.5,332.9 488.4,332.4 490.7,330.5 494.3,331.7 494.8,336.7"/><polyline points="494.8,336.7 495.7,334.8 496.8,333.1 497.7,331.4 498.7,329.5 501.2,327.9 501.8,327.1"/><polyline points="501.8,327.1 503.4,328.2 503.7,330.6 502.2,333.1 504.8,335.8 507.3,336.8"/><polyline points="505.7,338.2 502.6,340.9 503.4,344.4 504.1,347.9 504.4,352.2"/><polyline points="507.3,336.8 508.8,335.4 511.4,335.0 515.3,334.8 517.2,336.7"/><polyline points="505.7,338.2 507.3,339.5 506.9,342.2 509.2,341.7 512.4,343.7 513.7,345.8"/><polyline points="511.4,335.0 509.9,338.1 512.1,340.2 515.0,343.2 516.6,345.8 516.5,349.6 514.3,351.6 513.0,352.3"/><polyline points="509.0,347.8 509.9,346.8 513.7,347.1 516.6,346.5"/><polyline points="505.8,358.0 508.5,358.4"/><polyline points="487.8,297.6 491.0,299.5 492.5,301.4 491.7,303.1 498.3,304.6 501.2,306.6 505.6,306.9 511.4,308.0 515.7,307.2 520.8,306.9 523.0,305.5 526.7,303.8 529.6,301.5 534.2,301.1 531.8,299.8 530.9,299.7 528.8,299.3 529.9,296.7"/><polyline points="487.8,297.6 491.0,295.9 494.5,295.3 498.3,296.4 502.6,295.7 502.9,293.6 505.6,294.0 508.5,294.6 511.4,296.2 515.3,296.0 517.2,297.0 520.8,297.4 525.9,296.2 529.9,296.7"/><polyline points="529.9,296.7 531.5,297.1 533.9,295.7 535.4,293.2 538.3,291.8 543.4,292.4 545.6,296.7 550.0,298.3 556.2,298.8 554.3,302.4 551.0,304.1 550.7,306.6 550.1,307.2"/><polyline points="541.2,310.8 543.4,309.1 546.7,308.4 548.5,307.2 550.1,307.2"/><polyline points="544.1,313.8 546.7,312.5"/><polyline points="431.3,301.4 430.6,300.0 428.4,298.8 427.7,297.9 429.1,295.7 431.3,294.5 434.7,294.8 437.9,294.6 440.1,295.6 443.0,295.0 445.9,295.5 449.2,295.3 448.8,293.6 448.1,292.9 450.2,291.5 448.8,290.8 454.6,290.0 460.4,288.8 463.3,290.5 467.0,290.8 468.4,291.5 471.4,290.8 473.5,292.5 476.4,295.0 480.8,295.0 483.7,296.7 487.1,297.7"/><polyline points="487.1,297.7 484.4,300.7 480.8,300.4 480.1,302.8 476.4,303.5 476.9,307.5"/><polyline points="437.1,307.6 441.5,308.7 441.5,303.5 445.1,302.7 448.8,304.3 450.2,305.6 453.9,305.3 456.1,307.7 459.7,309.7 460.4,308.7 463.3,307.5 466.8,307.0 468.4,306.5 470.6,306.3 475.0,306.6 476.9,307.5"/><polyline points="441.5,308.7 444.4,307.0 447.3,307.7 449.2,308.9 450.8,310.6 453.9,312.4 456.8,314.2"/><polyline points="459.7,309.7 463.3,310.3 466.3,311.4 469.2,309.9 473.5,308.9 476.9,307.5"/><polyline points="458.7,314.6 459.7,311.3 462.6,311.1 467.1,311.4 469.0,314.4"/><polyline points="476.9,307.5 470.6,309.9 467.1,311.4 469.2,314.5 473.2,316.9"/><polyline points="357.5,317.6 357.8,321.1 354.8,322.4 352.7,324.7 347.3,326.5 347.3,327.9 340.8,327.9"/><polyline points="347.3,327.9 347.3,330.5 342.5,330.3 342.5,333.8 341.1,336.9 335.3,336.9"/><polyline points="372.5,314.9 371.9,318.0 370.9,320.0 373.1,321.8 373.8,324.4 374.4,328.9 374.1,332.4 377.3,333.8 368.7,339.5 366.1,340.0 364.7,340.2 361.7,337.6 352.9,331.7 347.3,328.5"/><polyline points="376.2,320.2 374.8,322.3 373.8,324.4"/><polyline points="352.9,331.7 351.3,336.7 352.0,344.4 343.3,345.4 342.1,346.1 338.9,343.6 336.3,343.9"/><polyline points="342.1,346.1 343.3,349.5 347.6,351.5"/><polyline points="396.4,322.4 396.4,336.0 413.7,336.0"/><polyline points="396.4,336.0 396.4,338.8 394.9,339.5 394.9,344.8"/><polyline points="394.9,339.5 383.1,334.0 380.4,335.1 377.3,333.8"/><polyline points="383.1,334.0 382.6,337.8 379.8,347.2 380.5,348.7"/><polyline points="363.9,358.1 364.1,354.3 365.2,350.5 366.0,347.9 369.5,348.2 373.1,348.9 378.2,348.5 380.5,348.7 381.1,350.1 378.9,354.3 377.2,357.1 373.8,358.1 372.4,360.6"/><polyline points="394.9,344.8 392.8,347.2 392.0,348.9 393.2,351.5 394.5,354.7"/><polyline points="381.1,350.1 382.6,352.9 383.3,356.4 386.9,354.6 390.6,354.3 393.2,351.5"/><polyline points="383.3,356.4 381.8,361.4 383.3,364.2 378.9,363.9 376.4,363.9 374.3,363.8"/><polyline points="413.7,336.0 416.0,341.6 413.1,346.8 411.7,349.4 409.8,352.2 409.9,355.0 408.0,355.9 411.4,359.5"/><polyline points="394.5,354.7 396.7,352.6 399.3,353.5 403.7,352.9 406.6,350.1 409.8,352.2"/><polyline points="394.9,355.4 400.0,359.9 405.1,361.8 409.5,361.1 411.4,359.5"/><polyline points="411.4,359.5 416.8,362.1 419.7,361.4 421.1,361.4 425.5,359.9 429.9,355.7 429.6,354.4 424.0,354.3 422.6,351.5 421.7,349.4"/><polyline points="413.1,346.8 418.2,346.5 421.7,349.4"/><polyline points="419.7,361.4 419.7,369.1"/><polyline points="383.3,362.1 386.9,361.4 392.8,360.6 396.4,359.9 400.0,359.9"/><polyline points="409.5,361.1 410.9,365.6 409.5,368.4"/><polyline points="403.7,365.6 405.1,361.8"/><polyline points="366.1,340.0 365.8,343.7 361.5,345.8 360.3,346.0 357.1,345.8 352.0,345.1"/><polyline points="360.3,346.0 362.9,349.4 360.0,351.5 355.8,351.5 353.7,352.9 352.0,352.3 352.1,350.3 353.7,348.7 357.1,345.8"/><polyline points="360.0,351.5 360.7,355.7 361.7,358.4"/><polyline points="362.3,358.3 362.3,354.3 365.2,350.5"/><polyline points="355.8,351.5 356.1,354.3 355.5,359.8"/><polyline points="349.1,360.8 347.6,356.3 348.4,355.0 345.0,355.0 343.3,357.3"/><polyline points="345.0,355.0 344.0,352.9 340.6,353.6"/><polyline points="347.6,351.5 343.3,349.5 340.1,349.1 335.7,349.6"/><polyline points="335.5,347.8 339.9,347.9 335.7,348.4"/><polyline points="352.0,352.3 348.4,352.6 347.6,351.5"/><polyline points="352.1,350.3 347.6,351.5"/></g><g fill="none" stroke="#000" stroke-width="2.1" stroke-linejoin="round" shape-rendering="crispEdges"><polyline points="550.7,318.6 553.6,318.6 556.6,318.2 556.8,319.4 559.1,318.7 559.4,318.2 562.0,318.2 562.3,317.6 563.8,317.6 564.9,316.6"/><polyline points="154.8,282.3 156.7,282.9 159.9,284.3 162.0,284.7 163.5,286.6 165.7,288.3 168.6,289.4 170.8,289.8 170.8,291.5 173.7,293.6 174.4,295.0 178.1,296.4 180.2,297.9"/><polyline points="162.0,285.2 164.2,287.3 166.4,289.1 167.9,289.7"/><polyline points="163.9,284.9 166.1,286.6 167.6,288.0"/><polyline points="367.3,281.6 367.3,279.5 370.2,278.4 374.6,276.7 377.5,274.6 379.6,272.5 381.8,270.3 386.2,268.9 390.6,267.9 394.9,266.8 397.8,266.8"/><polyline points="245.0,259.3 234.8,259.3 229.0,257.6 230.5,255.8 236.3,254.1 243.6,252.7 250.8,250.6 265.4,249.9 269.8,250.6 265.4,252.0 258.1,254.1 250.8,255.5 247.9,257.2 245.0,259.3"/><polyline points="296.0,282.6 289.8,281.2 287.9,278.1 285.0,273.9 283.6,271.8 282.1,269.6 280.7,267.5 279.2,265.4 277.0,261.9 275.6,260.7 269.8,259.5 262.5,259.5 256.7,257.8 253.7,256.5"/><polyline points="253.7,256.5 259.6,255.5 265.4,253.8 271.2,251.7 281.4,250.9 294.5,250.4 301.8,249.6 316.3,249.0 326.5,249.9 333.8,251.3 341.8,252.0"/><polyline points="264.7,279.5 266.1,277.4 266.8,275.3 270.0,273.0 263.9,270.3 260.3,267.5 255.2,266.1 246.5,264.0 242.1,263.0 234.8,263.6 230.5,263.3"/><polyline points="213.0,268.9 205.7,269.8 195.5,270.3 188.2,268.9 186.8,266.8 189.0,264.7 195.5,263.7 204.3,264.3 208.6,266.8 211.5,267.5 213.0,268.9"/><polyline points="239.9,268.9 236.3,268.6 231.9,270.3 229.0,269.9 226.8,268.9 223.2,271.0 220.3,271.8 217.4,271.0 213.0,271.5 208.6,271.0 202.8,270.8 199.9,271.0 195.5,271.3 192.6,270.6 188.2,269.6 183.9,268.9 179.5,268.9 176.6,268.2 171.5,268.2 166.4,268.9"/><polyline points="197.0,267.5 202.8,266.5 207.2,267.8"/><polyline points="231.9,267.9 234.8,266.1 237.7,264.7"/><polyline points="239.2,267.5 243.6,266.1 247.9,266.5 252.3,267.5"/><polyline points="249.4,268.9 255.2,268.5 258.1,269.2"/><polyline points="253.7,273.2 258.1,273.9 262.5,274.6"/><polyline points="258.1,276.4 261.8,277.4 263.9,278.4"/><polyline points="237.7,258.6 243.6,257.2 246.5,256.2"/><polyline points="231.9,253.4 237.7,252.4 243.6,251.6 252.3,251.0"/><polyline points="199.9,258.6 205.7,259.1 211.5,258.6"/><polyline points="185.3,261.4 191.2,260.9 195.5,260.0"/><polyline points="118.1,269.8 120.6,270.8 123.3,272.6 120.6,273.2 115.5,274.4 119.3,276.0 125.7,276.1"/><polyline points="111.8,277.4 114.3,277.8 112.1,278.1"/><polyline points="108.9,281.8 108.3,281.6"/><polyline points="511.4,352.2 509.9,350.8 508.5,349.6 506.9,347.9 505.6,348.4 504.4,352.2 506.1,355.7 507.4,357.3"/><polyline points="503.1,355.7 503.4,352.9 503.7,348.7 502.2,344.4"/><polyline points="535.5,340.9 537.9,340.9 538.3,343.0 537.0,344.7 537.6,347.2 540.6,349.2"/><polyline points="537.6,357.1 540.5,356.4 543.4,357.1 544.1,355.7 542.5,353.2 540.1,355.0 537.9,356.0 537.6,357.1"/><polyline points="518.5,367.0 518.7,364.9 519.5,364.2 521.6,364.6 524.5,362.5 525.9,360.5 528.1,359.5 530.0,357.3 531.3,358.5 533.5,359.7"/><polyline points="270.5,344.0 270.8,345.1 271.2,346.4 271.2,347.9 270.2,349.9"/><polyline points="268.3,341.5 268.9,342.6 270.0,342.9"/><polyline points="395.7,313.1 397.1,314.5 398.6,314.1"/><polyline points="572.5,305.5 573.7,304.8"/><polyline points="575.4,303.8 576.6,303.1"/><polyline points="578.3,302.1 579.2,301.5"/><polyline points="581.2,300.4 581.8,300.0"/><polyline points="584.2,298.6 584.9,298.0"/><polyline points="586.3,296.7 587.1,296.0"/><polyline points="341.8,252.0 335.3,253.4 332.3,255.5 333.1,258.3 330.9,260.5 329.4,262.6 328.0,264.7 325.1,266.8 328.0,267.9 322.9,270.3"/><polyline points="335.3,254.1 330.9,254.8 329.4,256.9 330.9,259.1"/><polyline points="328.0,262.6 325.1,263.3 326.5,264.7"/></g><g fill="none" stroke="#fff" stroke-width="1.2" shape-rendering="crispEdges"><polyline points="432.1,302.4 433.5,304.2 434.2,306.3 433.5,308.4 435.0,310.6 436.4,312.7"/></g></svg><g stroke="#000" stroke-width="1" stroke-dasharray="3 3" shape-rendering="crispEdges"><line x1="164.5" y1="368" x2="164.5" y2="240"/><line x1="229.5" y1="368" x2="229.5" y2="240"/><line x1="295.5" y1="368" x2="295.5" y2="240"/><line x1="360.5" y1="368" x2="360.5" y2="240"/><line x1="426.5" y1="368" x2="426.5" y2="240"/><line x1="491.5" y1="368" x2="491.5" y2="240"/><line x1="557.5" y1="368" x2="557.5" y2="240"/><line x1="98" y1="303.5" x2="622" y2="303.5"/></g><rect x="98.5" y="240.5" width="524" height="127" fill="none" stroke="#000" stroke-width="1" shape-rendering="crispEdges"/><text transform="translate(163.8 385) scale(1.035 1)" font-size="16" text-anchor="middle">135W</text><text transform="translate(229.3 385) scale(1.035 1)" font-size="16" text-anchor="middle">90W</text><text transform="translate(294.8 385) scale(1.035 1)" font-size="16" text-anchor="middle">45W</text><text transform="translate(360.3 385) scale(1.035 1)" font-size="16" text-anchor="middle">0</text><text transform="translate(425.8 385) scale(1.035 1)" font-size="16" text-anchor="middle">45E</text><text transform="translate(491.3 385) scale(1.035 1)" font-size="16" text-anchor="middle">90E</text><text transform="translate(556.8 385) scale(1.035 1)" font-size="16" text-anchor="middle">135E</text><text transform="translate(94.4 308) scale(1.0 1)" font-size="16" text-anchor="end">45N</text><g shape-rendering="crispEdges"><rect x="98.00" y="403" width="44.17" height="25" fill="#290AD8"/><rect x="141.67" y="403" width="44.17" height="25" fill="#264DFF"/><rect x="185.33" y="403" width="44.17" height="25" fill="#3FA0FF"/><rect x="229.00" y="403" width="44.17" height="25" fill="#72D9FF"/><rect x="272.67" y="403" width="44.17" height="25" fill="#AAF7FF"/><rect x="316.33" y="403" width="44.17" height="25" fill="#E0FFFF"/><rect x="360.00" y="403" width="44.17" height="25" fill="#FFFFBF"/><rect x="403.67" y="403" width="44.17" height="25" fill="#FFE099"/><rect x="447.33" y="403" width="44.17" height="25" fill="#FFAD72"/><rect x="491.00" y="403" width="44.17" height="25" fill="#F76D5E"/><rect x="534.67" y="403" width="44.17" height="25" fill="#D82632"/><rect x="578.33" y="403" width="44.17" height="25" fill="#A50021"/><line x1="141.5" y1="403" x2="141.5" y2="427" stroke="#000"/><line x1="185.5" y1="403" x2="185.5" y2="427" stroke="#000"/><line x1="229.5" y1="403" x2="229.5" y2="427" stroke="#000"/><line x1="272.5" y1="403" x2="272.5" y2="427" stroke="#000"/><line x1="316.5" y1="403" x2="316.5" y2="427" stroke="#000"/><line x1="360.5" y1="403" x2="360.5" y2="427" stroke="#000"/><line x1="403.5" y1="403" x2="403.5" y2="427" stroke="#000"/><line x1="447.5" y1="403" x2="447.5" y2="427" stroke="#000"/><line x1="491.5" y1="403" x2="491.5" y2="427" stroke="#000"/><line x1="534.5" y1="403" x2="534.5" y2="427" stroke="#000"/><line x1="578.5" y1="403" x2="578.5" y2="427" stroke="#000"/><rect x="98.5" y="403.5" width="524" height="24" fill="none" stroke="#000"/></g><text transform="translate(141.7 445) scale(1.035 1)" font-size="16" text-anchor="middle">-2.5</text><text transform="translate(185.3 445) scale(1.035 1)" font-size="16" text-anchor="middle">-2.0</text><text transform="translate(229.0 445) scale(1.035 1)" font-size="16" text-anchor="middle">-1.5</text><text transform="translate(272.7 445) scale(1.035 1)" font-size="16" text-anchor="middle">-1.0</text><text transform="translate(316.3 445) scale(1.035 1)" font-size="16" text-anchor="middle">-0.5</text><text transform="translate(360.0 445) scale(1.035 1)" font-size="16" text-anchor="middle">0.0</text><text transform="translate(403.7 445) scale(1.035 1)" font-size="16" text-anchor="middle">0.5</text><text transform="translate(447.3 445) scale(1.035 1)" font-size="16" text-anchor="middle">1.0</text><text transform="translate(491.0 445) scale(1.035 1)" font-size="16" text-anchor="middle">1.5</text><text transform="translate(534.7 445) scale(1.035 1)" font-size="16" text-anchor="middle">2.0</text><text transform="translate(578.3 445) scale(1.035 1)" font-size="16" text-anchor="middle">2.5</text></svg></body></html>
